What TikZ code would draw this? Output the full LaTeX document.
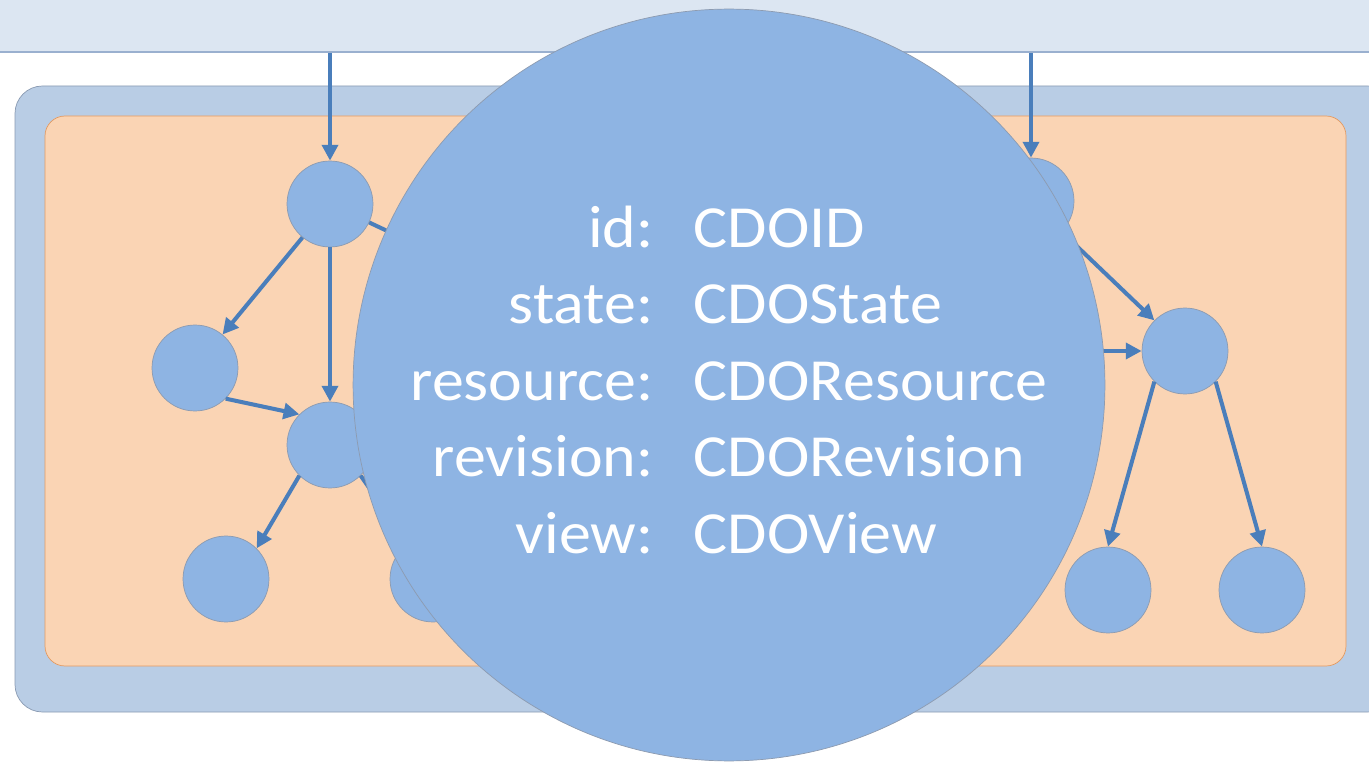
\documentclass[tikz,border=0pt]{standalone}
\usepackage{fontspec}
\setmainfont{Carlito}[FakeStretch=1.07]
\usetikzlibrary{arrows.meta}
\definecolor{bandfill}{HTML}{DCE6F2}
\definecolor{bandline}{HTML}{9AB0CF}
\definecolor{outerfill}{HTML}{B9CDE5}
\definecolor{outerline}{HTML}{8A9BB3}
\definecolor{innerfill}{HTML}{FAD4B4}
\definecolor{innerline}{HTML}{E39A62}
\definecolor{vtxfill}{HTML}{8EB4E3}
\definecolor{vtxline}{HTML}{8D9BB0}
\definecolor{arrowblue}{HTML}{4A7EBB}

\begin{document}
\begin{tikzpicture}[x=0.02cm, y=-0.02cm, >={Triangle[length=9pt,width=9pt]},
    vtx/.style={circle, draw=vtxline, fill=vtxfill, minimum size=1.72cm, inner sep=0pt},
    link/.style={->, draw=arrowblue, fill=arrowblue, line width=2.3pt}]
    \clip (0,0) rectangle (1369,763);
    \fill[white] (0,0) rectangle (1369,763);

    % band and container boxes
    \fill[bandfill] (0,0) rectangle (1369,52);
    \draw[bandline, line width=1.2pt] (0,52) -- (1369,52);
    \draw[outerline, fill=outerfill, rounded corners=0.55cm] (15,86) rectangle (1395,712);
    \draw[innerline, fill=innerfill, rounded corners=0.4cm] (45,116) rectangle (1346,666);

    % object graph
    \node[vtx] (A) at (330,204) {};
    \node[vtx] (B) at (195,368) {};
    \node[vtx] (C) at (330,445) {};
    \node[vtx] (D) at (226,579) {};
    \node[vtx] (E) at (433,579) {};
    \node[vtx] (F) at (1031,201) {};
    \node[vtx] (G) at (1185,351) {};
    \node[vtx] (H) at (1108,590) {};
    \node[vtx] (I) at (1262,590) {};
    \coordinate (inA) at (330,53);
    \coordinate (inF) at (1031,53);
    \coordinate (h1) at (470,270);
    \coordinate (h2) at (1000,351);

    \draw[link] (inA)--(A); \draw[link] (A)--(B); \draw[link] (A)--(C);
    \draw[link] (A)--(h1); \draw[link] (B.south east)--(C.north west);
    \draw[link] (C.south west)--(D.north east); \draw[link] (C.south east)--(E);
    \draw[link] (inF)--(F); \draw[link] (F.south east)--(G.north west);
    \draw[link] (h2)--(G.west); \draw[link] (G.south west)--(H.north);
    \draw[link] (G.south east)--(I.north);

    % zoomed object
    \node[circle, draw=vtxline, fill=vtxfill, minimum size=15.04cm, inner sep=0pt,
        text=white, font=\fontsize{34}{43.5}\selectfont] (obj) at (729,385)
        {\begin{tabular}{@{}r@{\hspace{23pt}}l@{}}
            id: & CDOID\\
            state: & CDOState\\
            resource: & CDOResource\\
            revision: & CDORevision\\
            view: & CDOView
        \end{tabular}};
\end{tikzpicture}
\end{document}
